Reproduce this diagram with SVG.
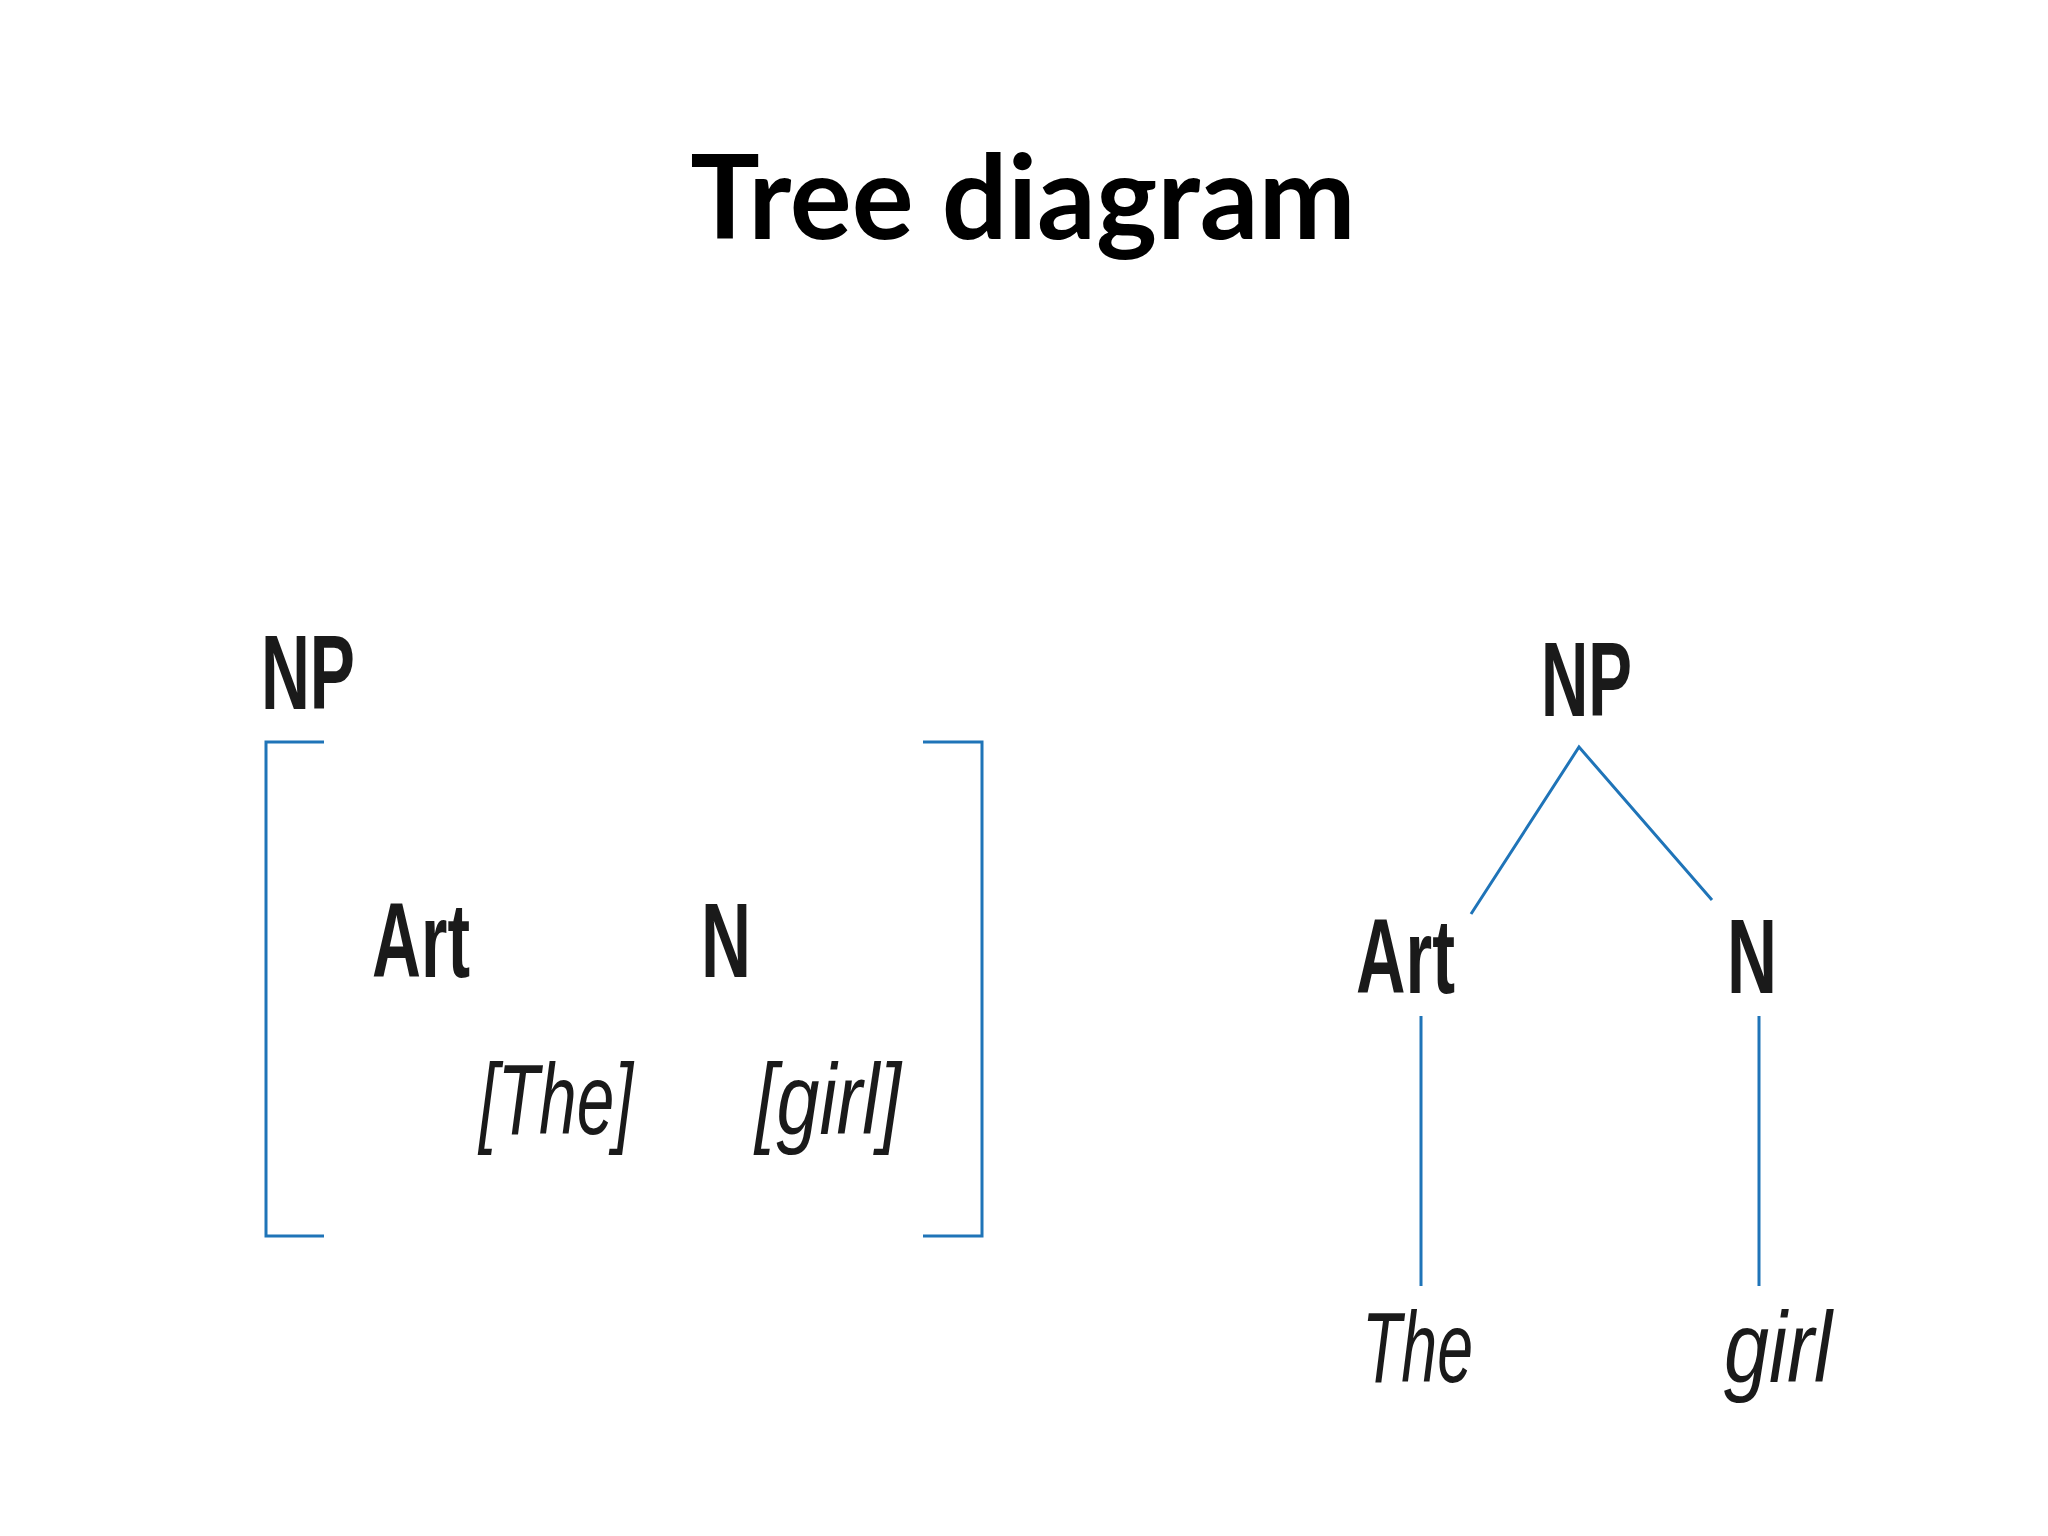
<svg xmlns="http://www.w3.org/2000/svg" width="2048" height="1536" viewBox="0 0 2048 1536">
<style>
.t{font-family:"Liberation Sans",Arial,sans-serif;font-weight:bold;font-size:106px;fill:#1a1a1a}
.i{font-family:"Liberation Sans",Arial,sans-serif;font-style:italic;font-size:100px;fill:#1a1a1a}
.c{stroke:#1f74b8;stroke-width:3;fill:none}
</style>
<rect width="2048" height="1536" fill="#fff"/>
<text x="1023" y="239" text-anchor="middle" font-family="Lato,'Open Sans',sans-serif" font-weight="bold" font-size="116">Tree diagram</text>
<g id="bracket-np"><text class="t" x="261" y="709" textLength="94" lengthAdjust="spacingAndGlyphs">NP</text></g>
<g id="bracket-art"><text class="t" x="372" y="977" textLength="98" lengthAdjust="spacingAndGlyphs">Art</text></g>
<g id="bracket-n"><text class="t" x="701" y="977" textLength="50" lengthAdjust="spacingAndGlyphs">N</text></g>
<g id="bracket-the"><text class="i" x="479" y="1134" textLength="154" lengthAdjust="spacingAndGlyphs">[The]</text></g>
<g id="bracket-girl"><text class="i" x="755" y="1134" textLength="146" lengthAdjust="spacingAndGlyphs">[girl]</text></g>
<g id="tree-np"><text class="t" x="1541" y="716" textLength="91" lengthAdjust="spacingAndGlyphs">NP</text></g>
<g id="tree-art"><text class="t" x="1356" y="993" textLength="99" lengthAdjust="spacingAndGlyphs">Art</text></g>
<g id="tree-n"><text class="t" x="1727" y="993" textLength="50" lengthAdjust="spacingAndGlyphs">N</text></g>
<g id="tree-the"><text class="i" x="1362" y="1382" textLength="111" lengthAdjust="spacingAndGlyphs">The</text></g>
<g id="tree-girl"><text class="i" x="1724" y="1382" textLength="108" lengthAdjust="spacingAndGlyphs">girl</text></g>
<g id="connectors" class="c">
<path d="M324 742H266V1236H324"/>
<path d="M923 742H982V1236H923"/>
<path d="M1471 914L1579 747L1712 900"/>
<path d="M1421 1016V1286"/>
<path d="M1759 1016V1286"/>
</g>
</svg>
